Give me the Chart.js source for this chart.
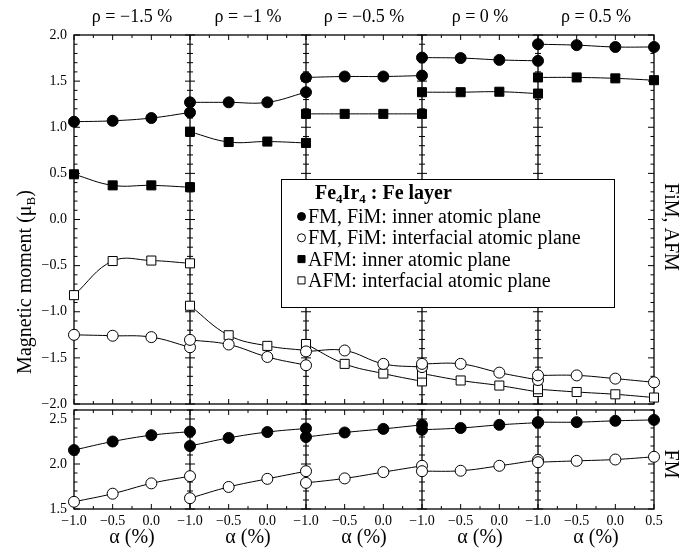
<!DOCTYPE html>
<html>
<head>
<meta charset="utf-8">
<script src="https://cdn.jsdelivr.net/npm/chart.js@4.4.0/dist/chart.umd.min.js"></script>
<style>
  html, body { margin: 0; padding: 0; background: #fff; }
  #wrap { position: relative; width: 696px; height: 549px; }
  #wrap canvas { position: absolute; left: 0; top: 0; }
</style>
</head>
<body>
<div id="wrap">
  <canvas id="upper" width="696" height="549"></canvas>
  <canvas id="lower" width="696" height="549"></canvas>
</div>
<script>
const rhoLabels = ['ρ = −1.5 %', 'ρ = −1 %', 'ρ = −0.5 %', 'ρ = 0 %', 'ρ = 0.5 %'];
const alphaSteps = [-1.0, -0.5, 0.0, 0.5];
const alphaTicks = ['−1.0', '−0.5', '0.0', '−1.0', '−0.5', '0.0', '−1.0', '−0.5', '0.0',
    '−1.0', '−0.5', '0.0', '−1.0', '−0.5', '0.0', '0.5'];
const upperTicks = [-2.0, -1.5, -1.0, -0.5, 0.0, 0.5, 1.0, 1.5, 2.0];
const lowerTicks = [1.5, 2.0, 2.5];
const seriesLabels = [
    'FM, FiM: inner atomic plane',
    'FM, FiM: interfacial atomic plane',
    'AFM: inner atomic plane',
    'AFM: interfacial atomic plane'
];

// upper panel (FiM, AFM) - one row per rho block, values at alphaSteps
const fimInner = [
    [1.06, 1.07, 1.10, 1.16],
    [1.27, 1.27, 1.27, 1.38],
    [1.54, 1.55, 1.55, 1.56],
    [1.755, 1.75, 1.73, 1.72],
    [1.90, 1.89, 1.87, 1.87]
];
const fimInterface = [
    [-1.25, -1.26, -1.275, -1.385],
    [-1.305, -1.355, -1.49, -1.58],
    [-1.43, -1.42, -1.565, -1.60],
    [-1.565, -1.565, -1.66, -1.74],
    [-1.69, -1.69, -1.725, -1.765]
];
const afmInner = [
    [0.49, 0.37, 0.37, 0.35],
    [0.95, 0.84, 0.845, 0.83],
    [1.145, 1.145, 1.145, 1.145],
    [1.38, 1.38, 1.385, 1.365],
    [1.54, 1.54, 1.53, 1.51]
];
const afmInterface = [
    [-0.82, -0.45, -0.445, -0.475],
    [-0.935, -1.255, -1.37, -1.42],
    [-1.35, -1.565, -1.67, -1.755],
    [-1.67, -1.745, -1.80, -1.87],
    [-1.84, -1.87, -1.895, -1.93]
];

// lower panel (FM)
const fmInner = [
    [2.155, 2.25, 2.32, 2.36],
    [2.20, 2.29, 2.355, 2.395],
    [2.30, 2.35, 2.39, 2.435],
    [2.38, 2.40, 2.435, 2.46],
    [2.465, 2.465, 2.48, 2.49]
];
const fmInterface = [
    [1.58, 1.67, 1.785, 1.865],
    [1.62, 1.745, 1.835, 1.92],
    [1.79, 1.84, 1.91, 1.98],
    [1.92, 1.925, 1.98, 2.045],
    [2.02, 2.035, 2.05, 2.08]
];

const BLOCK = 1.5;
const X_MAX = BLOCK * rhoLabels.length;
const FONT = "'Liberation Serif', 'Times New Roman', serif";

/**
 * Turns per-block rows into one x/y list, with a null between blocks so
 * the curve breaks at each rho boundary.
 */
const toPoints = (rows) => {
    const points = [];
    rows.forEach((row, b) => {
        row.forEach((v, i) => {
            points.push({ x: b * BLOCK + alphaSteps[i] - alphaSteps[0], y: v });
        });
        if (b < rows.length - 1) {
            points.push({ x: (b + 1) * BLOCK, y: null });
        }
    });
    return points;
};

const fmt = (v) => (Math.round(v * 10) / 10).toFixed(1).replace('-', '−');

const series = (label, rows, style, filled) => ({
    label,
    data: toPoints(rows),
    borderColor: '#000',
    borderWidth: 1,
    tension: 0.4,
    fill: false,
    clip: false,
    pointStyle: style,
    pointRadius: style === 'rect' ? 6.4 : 5.5,
    pointBackgroundColor: filled ? '#000' : '#fff',
    pointBorderColor: '#000',
    pointBorderWidth: 1
});

const line = (ctx, x1, y1, x2, y2) => {
    ctx.beginPath();
    ctx.moveTo(x1, y1);
    ctx.lineTo(x2, y2);
    ctx.stroke();
};

/**
 * Frame, block boundaries and inward ticks of one panel.
 */
const drawFrame = (chart) => {
    const { ctx, chartArea: a, scales: { x, y } } = chart;
    ctx.save();
    ctx.strokeStyle = '#000';
    ctx.lineWidth = 1.3;
    ctx.strokeRect(a.left, a.top, a.right - a.left, a.bottom - a.top);

    const bounds = [];
    for (let b = 1; b < rhoLabels.length; b++) {
        bounds.push(x.getPixelForValue(b * BLOCK));
    }
    bounds.forEach((px) => line(ctx, px, a.top, px, a.bottom));

    ctx.lineWidth = 1;
    const n = Math.round((y.max - y.min) / 0.1);
    for (let i = 0; i <= n; i++) {
        const v = y.min + i * 0.1;
        const py = y.getPixelForValue(v);
        const major = Math.abs(v / 0.5 - Math.round(v / 0.5)) < 1e-6;
        const len = major ? 6 : 3.5;
        line(ctx, a.left, py, a.left + len, py);
        line(ctx, a.right, py, a.right - len, py);
        const half = major ? 5 : 3;
        bounds.forEach((px) => line(ctx, px - half, py, px + half, py));
    }

    const m = Math.round(X_MAX / 0.25);
    for (let i = 0; i <= m; i++) {
        const px = x.getPixelForValue(i * 0.25);
        const len = i % 2 === 0 ? 5 : 3;
        line(ctx, px, a.top, px, a.top + len);
        line(ctx, px, a.bottom, px, a.bottom - len);
    }
    ctx.restore();
};

const rotatedText = (ctx, text, x, y, angle) => {
    ctx.save();
    ctx.translate(x, y);
    ctx.rotate(angle);
    ctx.fillText(text, 0, 0);
    ctx.restore();
};

const upperDecor = {
    id: 'upperDecor',
    beforeDatasetsDraw(chart) {
        drawFrame(chart);
    },
    afterDatasetsDraw(chart) {
        const { ctx, chartArea: a, scales: { x } } = chart;
        ctx.save();
        ctx.fillStyle = '#000';

        // rho headings
        ctx.font = `18px ${FONT}`;
        ctx.textAlign = 'center';
        ctx.textBaseline = 'alphabetic';
        rhoLabels.forEach((t, b) => {
            ctx.fillText(t, x.getPixelForValue(b * BLOCK + BLOCK / 2), 22);
        });

        // y title with subscript
        ctx.save();
        ctx.translate(31, 282);
        ctx.rotate(-Math.PI / 2);
        ctx.textAlign = 'left';
        const main = 'Magnetic moment (μ';
        ctx.font = `20px ${FONT}`;
        const w1 = ctx.measureText(main).width;
        ctx.font = `13px ${FONT}`;
        const w2 = ctx.measureText('B').width;
        ctx.font = `20px ${FONT}`;
        const w3 = ctx.measureText(')').width;
        let cx = -(w1 + w2 + w3) / 2;
        ctx.fillText(main, cx, 0);
        cx += w1;
        ctx.font = `13px ${FONT}`;
        ctx.fillText('B', cx, 4);
        cx += w2;
        ctx.font = `20px ${FONT}`;
        ctx.fillText(')', cx, 0);
        ctx.restore();

        // right side label
        ctx.font = `20px ${FONT}`;
        ctx.textAlign = 'center';
        rotatedText(ctx, 'FiM, AFM', 665, 227, Math.PI / 2);

        // key box
        const box = { left: 281, top: 179, right: 614, bottom: 307 };
        ctx.fillStyle = '#fff';
        ctx.fillRect(box.left, box.top, box.right - box.left, box.bottom - box.top);
        ctx.strokeStyle = '#000';
        ctx.lineWidth = 1;
        ctx.strokeRect(box.left + 0.5, box.top + 0.5, box.right - box.left, box.bottom - box.top);

        ctx.fillStyle = '#000';
        ctx.textAlign = 'left';
        const parts = [['Fe', false], ['4', true], ['Ir', false], ['4', true], [' : Fe layer', false]];
        let tx = 315;
        parts.forEach(([t, sub]) => {
            ctx.font = sub ? `bold 13px ${FONT}` : `bold 20px ${FONT}`;
            ctx.fillText(t, tx, sub ? 203 : 199);
            tx += ctx.measureText(t).width;
        });

        ctx.font = `20px ${FONT}`;
        chart.data.datasets.forEach((ds, i) => {
            const base = 223 + i * 21.3;
            ctx.fillStyle = ds.pointBackgroundColor;
            ctx.strokeStyle = ds.pointBorderColor;
            ctx.lineWidth = 1;
            Chart.helpers.drawPoint(ctx, {
                pointStyle: ds.pointStyle,
                radius: ds.pointStyle === 'rect' ? 5 : 4,
                rotation: 0,
                borderWidth: 1
            }, 301.5, base - 6.5);
            ctx.fillStyle = '#000';
            ctx.fillText(seriesLabels[i], 308, base);
        });
        ctx.restore();
    }
};

const lowerDecor = {
    id: 'lowerDecor',
    beforeDatasetsDraw(chart) {
        drawFrame(chart);
    },
    afterDatasetsDraw(chart) {
        const { ctx, scales: { x } } = chart;
        ctx.save();
        ctx.fillStyle = '#000';
        ctx.font = `20px ${FONT}`;
        ctx.textAlign = 'center';
        ctx.textBaseline = 'alphabetic';
        rhoLabels.forEach((t, b) => {
            ctx.fillText('α (%)', x.getPixelForValue(b * BLOCK + BLOCK / 2), 543);
        });
        rotatedText(ctx, 'FM', 665, 464, Math.PI / 2);
        ctx.restore();
    }
};

const tickFont = { family: FONT, size: 14 };

const baseOptions = {
    animation: false,
    responsive: false,
    events: [],
    plugins: { legend: { display: false }, tooltip: { enabled: false } }
};

new Chart(document.getElementById('upper'), {
    type: 'line',
    data: {
        datasets: [
            series(seriesLabels[0], fimInner, 'circle', true),
            series(seriesLabels[1], fimInterface, 'circle', false),
            series(seriesLabels[2], afmInner, 'rect', true),
            series(seriesLabels[3], afmInterface, 'rect', false)
        ]
    },
    options: {
        ...baseOptions,
        layout: { padding: { left: 0, right: 42, top: 35, bottom: 145 } },
        scales: {
            x: { type: 'linear', min: 0, max: X_MAX, display: false },
            y: {
                type: 'linear',
                min: -2,
                max: 2,
                afterFit: (s) => { s.width = 74; },
                afterBuildTicks: (s) => { s.ticks = upperTicks.map((v) => ({ value: v })); },
                ticks: { padding: 7, color: '#000', font: tickFont, callback: (v) => fmt(v) },
                grid: { display: true, drawOnChartArea: false, drawTicks: false },
                border: { display: false }
            }
        }
    },
    plugins: [upperDecor]
});

new Chart(document.getElementById('lower'), {
    type: 'line',
    data: {
        datasets: [
            series('FM inner', fmInner, 'circle', true),
            series('FM interfacial', fmInterface, 'circle', false)
        ]
    },
    options: {
        ...baseOptions,
        layout: { padding: { left: 0, right: 42, top: 410, bottom: 0 } },
        scales: {
            x: {
                type: 'linear',
                min: 0,
                max: X_MAX,
                afterFit: (s) => { s.height = 40; },
                afterBuildTicks: (s) => { s.ticks = alphaTicks.map((t, i) => ({ value: i * 0.5 })); },
                ticks: {
                    padding: 4, color: '#000', font: tickFont, maxRotation: 0, autoSkip: false,
                    callback: (v, i) => alphaTicks[i]
                },
                grid: { display: true, drawOnChartArea: false, drawTicks: false },
                border: { display: false }
            },
            y: {
                type: 'linear',
                min: 1.5,
                max: 2.6,
                afterFit: (s) => { s.width = 74; },
                afterBuildTicks: (s) => { s.ticks = lowerTicks.map((v) => ({ value: v })); },
                ticks: { padding: 7, color: '#000', font: tickFont, callback: (v) => fmt(v) },
                grid: { display: true, drawOnChartArea: false, drawTicks: false },
                border: { display: false }
            }
        }
    },
    plugins: [lowerDecor]
});
</script>
</body>
</html>
